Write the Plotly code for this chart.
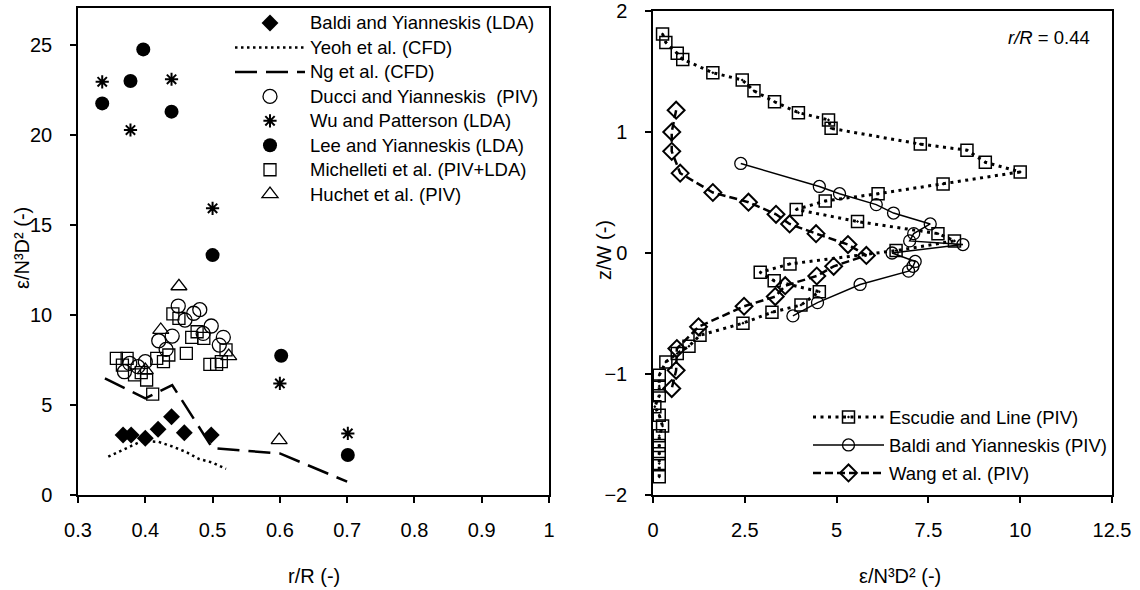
import plotly.graph_objects as go

# ---------------- Left panel data (r/R vs eps/N3D2) ----------------
baldi_lda_x = [0.367, 0.379, 0.400, 0.419, 0.439, 0.458, 0.498]
baldi_lda_y = [3.33, 3.33, 3.15, 3.65, 4.35, 3.46, 3.33]

yeoh_x = [0.345, 0.37, 0.395, 0.42, 0.44, 0.46, 0.48, 0.50, 0.52]
yeoh_y = [2.13, 2.55, 3.0, 2.95, 2.7, 2.4, 2.0, 1.8, 1.45]

ng_x = [0.34, 0.40, 0.44, 0.50, 0.60, 0.70]
ng_y = [6.48, 5.37, 6.11, 2.6, 2.31, 0.74]

ducci_x = [0.449, 0.481, 0.472, 0.459, 0.44, 0.42, 0.498, 0.486, 0.516, 0.51,
           0.431, 0.40, 0.389, 0.377, 0.369]
ducci_y = [10.5, 10.3, 10.1, 9.72, 8.83, 8.57, 9.39, 8.98, 8.76, 8.33,
           8.09, 7.41, 7.13, 7.31, 6.85]

wu_x = [0.336, 0.378, 0.439, 0.50, 0.60, 0.701]
wu_y = [22.96, 20.28, 23.1, 15.93, 6.2, 3.42]

lee_x = [0.336, 0.378, 0.397, 0.439, 0.50, 0.602, 0.701]
lee_y = [21.76, 23.0, 24.76, 21.3, 13.33, 7.74, 2.22]

mich_x = [0.357, 0.373, 0.366, 0.384, 0.402, 0.394, 0.411, 0.417, 0.427, 0.435,
          0.441, 0.45, 0.461, 0.469, 0.477, 0.487, 0.496, 0.506, 0.513, 0.52]
mich_y = [7.59, 7.59, 7.22, 6.67, 6.39, 6.8, 5.6, 7.59, 7.41, 7.78,
          10.06, 9.81, 7.87, 8.76, 9.07, 8.7, 7.26, 7.26, 7.41, 8.06]

huchet_x = [0.40, 0.423, 0.45, 0.524, 0.599]
huchet_y = [6.94, 9.17, 11.6, 7.72, 3.05]

# ---------------- Right panel data (eps/N3D2 vs z/W) ----------------
esc_x = [0.26, 0.35, 0.66, 0.81, 1.63, 2.43, 2.75, 3.31, 3.96, 4.78, 4.85, 7.28, 8.55, 9.05,
         10.0, 7.9, 6.13, 4.69, 3.90, 5.57, 7.76, 8.21, 6.62, 3.73, 2.92, 3.30, 4.53, 4.03,
         3.24, 2.45, 1.28, 0.98, 0.66, 0.35, 0.17, 0.17, 0.17, 0.05, 0.17, 0.26, 0.17, 0.17,
         0.17, 0.17, 0.17]
esc_y = [1.81, 1.74, 1.65, 1.60, 1.49, 1.43, 1.34, 1.25, 1.16, 1.10, 1.03, 0.90, 0.85, 0.75,
         0.67, 0.57, 0.49, 0.43, 0.36, 0.26, 0.16, 0.10, 0.02, -0.09, -0.16, -0.23, -0.32, -0.43,
         -0.49, -0.58, -0.68, -0.77, -0.83, -0.90, -1.01, -1.10, -1.18, -1.27, -1.34, -1.43, -1.51,
         -1.59, -1.66, -1.74, -1.85]

baldi_piv_x = [2.39, 4.53, 5.08, 6.08, 6.55, 7.55, 7.10, 6.99, 8.44, 6.51, 7.14, 7.08, 6.96,
               5.64, 4.48, 3.81]
baldi_piv_y = [0.74, 0.55, 0.49, 0.40, 0.33, 0.24, 0.16, 0.10, 0.07, 0.00, -0.07, -0.11, -0.15,
               -0.26, -0.41, -0.52]

wang_x = [0.63, 0.51, 0.51, 0.74, 1.63, 2.60, 3.35, 3.72, 4.44, 5.31, 5.81, 4.92, 4.46, 3.60,
          3.33, 2.48, 1.24, 0.65, 0.63, 0.51]
wang_y = [1.18, 1.00, 0.84, 0.66, 0.50, 0.42, 0.32, 0.24, 0.16, 0.07, -0.02, -0.11, -0.19, -0.27,
          -0.36, -0.44, -0.61, -0.79, -0.97, -1.12]

left_xticks = [0.3, 0.4, 0.5, 0.6, 0.7, 0.8, 0.9, 1.0]
left_xticklabels = ["0.3", "0.4", "0.5", "0.6", "0.7", "0.8", "0.9", "1"]
left_yticks = [0, 5, 10, 15, 20, 25]
right_xticks = [0, 2.5, 5, 7.5, 10, 12.5]
right_xticklabels = ["0", "2.5", "5", "7.5", "10", "12.5"]
right_yticks = [-2, -1, 0, 1, 2]

FONT = "Arial, Liberation Sans, sans-serif"
W, H = 1140, 590


def nm(s):
    return '<span style="font-size:18.5px">' + s + '</span>'


fig = go.Figure()

# left panel traces (legend 1)
fig.add_trace(go.Scatter(x=baldi_lda_x, y=baldi_lda_y, mode="markers", name=nm("Baldi and Yianneskis (LDA)"),
                         marker=dict(symbol="diamond", size=13, color="black"), xaxis="x", yaxis="y"))
fig.add_trace(go.Scatter(x=yeoh_x, y=yeoh_y, mode="lines", name=nm("Yeoh et al. (CFD)"),
                         line=dict(color="black", width=2.5, dash="2.5px,3.5px"), xaxis="x", yaxis="y"))
fig.add_trace(go.Scatter(x=ng_x, y=ng_y, mode="lines", name=nm("Ng et al. (CFD)"),
                         line=dict(color="black", width=2.5, dash="22px,9px"), xaxis="x", yaxis="y"))
fig.add_trace(go.Scatter(x=ducci_x, y=ducci_y, mode="markers", name=nm("Ducci and Yianneskis  (PIV)"),
                         marker=dict(symbol="circle-open", size=14, color="black", line=dict(width=1.3)),
                         xaxis="x", yaxis="y"))
fig.add_trace(go.Scatter(x=wu_x, y=wu_y, mode="markers", name=nm("Wu and Patterson (LDA)"),
                         marker=dict(symbol="asterisk-open", size=11, color="black", line=dict(width=2, color="black")),
                         xaxis="x", yaxis="y"))
fig.add_trace(go.Scatter(x=lee_x, y=lee_y, mode="markers", name=nm("Lee and Yianneskis (LDA)"),
                         marker=dict(symbol="circle", size=14, color="black"), xaxis="x", yaxis="y"))
fig.add_trace(go.Scatter(x=mich_x, y=mich_y, mode="markers", name=nm("Michelleti et al. (PIV+LDA)"),
                         marker=dict(symbol="square-open", size=12, color="black", line=dict(width=1.3)),
                         xaxis="x", yaxis="y"))
fig.add_trace(go.Scatter(x=huchet_x, y=huchet_y, mode="markers", name=nm("Huchet et al. (PIV)"),
                         marker=dict(symbol="triangle-up-open", size=14, color="black", line=dict(width=1.3)),
                         xaxis="x", yaxis="y"))

# right panel traces (legend 2)
fig.add_trace(go.Scatter(x=esc_x, y=esc_y, mode="lines+markers", name=nm("Escudie and Line (PIV)"),
                         line=dict(color="black", width=3, dash="3px,4.5px"),
                         marker=dict(symbol="square-open-dot", size=12, color="black", line=dict(width=1.5)),
                         xaxis="x2", yaxis="y2", legend="legend2"))
fig.add_trace(go.Scatter(x=baldi_piv_x, y=baldi_piv_y, mode="lines+markers", name=nm("Baldi and Yianneskis (PIV)"),
                         line=dict(color="black", width=1.5),
                         marker=dict(symbol="circle-open", size=12, color="black", line=dict(width=1.3)),
                         xaxis="x2", yaxis="y2", legend="legend2"))
fig.add_trace(go.Scatter(x=wang_x, y=wang_y, mode="lines+markers", name=nm("Wang et al. (PIV)"),
                         line=dict(color="black", width=2.5, dash="8px,4px"),
                         marker=dict(symbol="diamond-open", size=13, color="black", line=dict(width=2)),
                         xaxis="x2", yaxis="y2", legend="legend2"))

axis_common = dict(showgrid=False, zeroline=False, showline=True, linecolor="black", linewidth=1.5,
                   mirror=True, ticks="outside", ticklen=6, tickwidth=1.5, tickcolor="black",
                   tickfont=dict(family=FONT, size=20, color="black"), fixedrange=True,
                   automargin=False)

fig.update_layout(
    template="none",
    width=W, height=H,
    margin=dict(l=0, r=0, t=0, b=0, pad=0),
    paper_bgcolor="white", plot_bgcolor="white",
    font=dict(family=FONT, color="black"),
    xaxis=dict(domain=[78 / W, 549 / W], range=[0.3, 1.0], tickvals=left_xticks,
               ticktext=left_xticklabels, anchor="y", ticklabelstandoff=10, **axis_common),
    yaxis=dict(domain=[(H - 495) / H, (H - 8) / H], range=[0, 27.06], tickvals=left_yticks,
               anchor="x", ticklabelstandoff=14, **axis_common),
    xaxis2=dict(domain=[653 / W, 1112 / W], range=[0, 12.5], tickvals=right_xticks,
                ticktext=right_xticklabels, anchor="y2", ticklabelstandoff=10, **axis_common),
    yaxis2=dict(domain=[(H - 495) / H, (H - 11) / H], range=[-2, 2], tickvals=right_yticks,
                anchor="x2", ticklabelstandoff=14, **axis_common),
    showlegend=True,
    legend=dict(x=230 / W, y=1 - 5.8 / H, xanchor="left", yanchor="top", bgcolor="rgba(0,0,0,0)",
                font=dict(family=FONT, size=16.5, color="black"), itemwidth=70, tracegroupgap=0),
    legend2=dict(x=808 / W, y=1 - 398 / H, xanchor="left", yanchor="top", bgcolor="rgba(0,0,0,0)",
                 font=dict(family=FONT, size=19.2, color="black"), itemwidth=71, tracegroupgap=0),
    annotations=[
        dict(text="r/R (-)", x=314 / W, y=1 - 576 / H, xref="paper", yref="paper",
             showarrow=False, xanchor="center", yanchor="middle", font=dict(family=FONT, size=20)),
        dict(text="ε/N³D² (-)", x=900 / W, y=1 - 576 / H, xref="paper", yref="paper",
             showarrow=False, xanchor="center", yanchor="middle", font=dict(family=FONT, size=20)),
        dict(text="ε/N³D² (-)", x=22 / W, y=1 - 248 / H, xref="paper", yref="paper", textangle=-90,
             showarrow=False, xanchor="center", yanchor="middle", font=dict(family=FONT, size=20)),
        dict(text="z/W (-)", x=604 / W, y=1 - 250 / H, xref="paper", yref="paper", textangle=-90,
             showarrow=False, xanchor="center", yanchor="middle", font=dict(family=FONT, size=20)),
        dict(text="<i>r/R</i> = 0.44", x=1092 / W, y=1 - 38 / H, xref="paper", yref="paper",
             showarrow=False, xanchor="right", yanchor="middle", font=dict(family=FONT, size=18.5)),
    ],
)

fig.write_html("out.html")
